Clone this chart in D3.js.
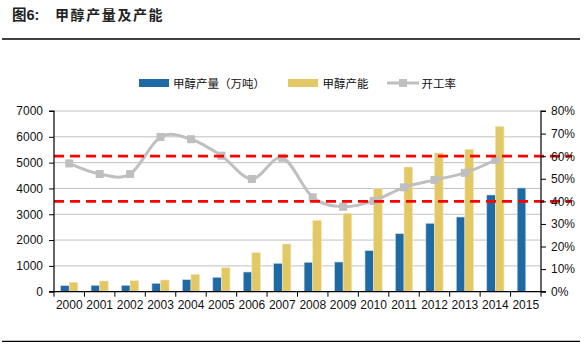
<!DOCTYPE html>
<html><head><meta charset="utf-8">
<script src="https://cdn.jsdelivr.net/npm/d3@7"></script>
<style>body{margin:0;background:#fff}svg{display:block}</style>
</head><body>
<svg id="c" width="587" height="346"></svg>
<script>
const years = ["2000","2001","2002","2003","2004","2005","2006","2007","2008","2009","2010","2011","2012","2013","2014","2015"];
const production = [233,248,248,325,465,558,763,1100,1140,1150,1588,2247,2650,2894,3747,4018];
const capacity = [364,415,426,453,674,930,1511,1848,2763,3037,3991,4831,5374,5517,6408,null];
const utilization = [0.568,0.521,0.521,0.685,0.675,0.602,0.499,0.593,0.418,0.376,0.402,0.462,0.495,0.526,0.583,null];
const leftTicks = [0,1000,2000,3000,4000,5000,6000,7000];
const rightTicks = [0,0.1,0.2,0.3,0.4,0.5,0.6,0.7,0.8];
const refLevels = [0.6,0.4];
const seriesNames = ["甲醇产量（万吨）","甲醇产能","开工率"];
const title1 = "图6:", title2 = "甲醇产量及产能";

const svg = d3.select("#c");
const L = 54, R = 541, T = 111, B = 291.7;
const x = d3.scaleBand().domain(years).range([L, R]).padding(0);
const y = d3.scaleLinear().domain([0,7000]).range([B, T]);
const y2 = d3.scaleLinear().domain([0,0.8]).range([B, T]);
const blue = "#1F69A4", yellow = "#E3C866", gray = "#BFBFBF";
const numFont = "'Liberation Sans Narrow','Arial Narrow','Liberation Sans',Arial,sans-serif";
const cjk = "'Noto Sans CJK SC',sans-serif";

// title
svg.append("text").attr("x",12).attr("y",20).attr("font-family","'Liberation Sans',Arial,"+cjk)
  .attr("font-weight","bold").attr("font-size",14.5).attr("fill","#222").text(title1);
svg.append("text").attr("x",55).attr("y",20).attr("font-family",cjk)
  .attr("font-weight","bold").attr("font-size",14).attr("letter-spacing",1.6).attr("fill","#222").text(title2);
svg.append("line").attr("x1",2).attr("x2",580).attr("y1",39).attr("y2",39).attr("stroke","#000").attr("stroke-width",1.3);
svg.append("line").attr("x1",2).attr("x2",580).attr("y1",341.3).attr("y2",341.3).attr("stroke","#000").attr("stroke-width",1.3);

// gridlines
svg.append("g").selectAll("line").data(leftTicks.filter(d=>d>0)).join("line")
  .attr("x1",L).attr("x2",R).attr("y1",d=>y(d)).attr("y2",d=>y(d))
  .attr("stroke","#C0C0C0").attr("stroke-width",1);

// bars
const bw = 8.6;
svg.append("g").selectAll("rect").data(years.map((yr,i)=>({yr,v:production[i]}))).join("rect")
  .attr("x",d=>x(d.yr)+x.bandwidth()/2-bw).attr("width",bw)
  .attr("y",d=>y(d.v)).attr("height",d=>B-y(d.v)).attr("fill",blue)
  .attr("stroke","#c9d9e8").attr("stroke-width",0.6);
svg.append("g").selectAll("rect").data(years.map((yr,i)=>({yr,v:capacity[i]})).filter(d=>d.v!=null)).join("rect")
  .attr("x",d=>x(d.yr)+x.bandwidth()/2).attr("width",bw)
  .attr("y",d=>y(d.v)).attr("height",d=>B-y(d.v)).attr("fill",yellow)
  .attr("stroke","#f3e7bd").attr("stroke-width",0.6);

// line
const pts = years.map((yr,i)=>({yr,v:utilization[i]})).filter(d=>d.v!=null);
const line = d3.line().x(d=>x(d.yr)+x.bandwidth()/2).y(d=>y2(d.v)).curve(d3.curveCardinal.tension(0));
svg.append("path").datum(pts).attr("d",line).attr("fill","none").attr("stroke",gray).attr("stroke-width",3);
svg.append("g").selectAll("rect").data(pts).join("rect")
  .attr("x",d=>x(d.yr)+x.bandwidth()/2-4).attr("y",d=>y2(d.v)-4).attr("width",8).attr("height",8).attr("fill",gray);

// red reference lines
svg.append("g").selectAll("line").data(refLevels).join("line")
  .attr("x1",L).attr("x2",572).attr("y1",d=>y2(d)).attr("y2",d=>y2(d))
  .attr("stroke","#FF0000").attr("stroke-width",2.8).attr("stroke-dasharray","10,6");

// axes
const axL = svg.append("g").attr("transform",`translate(${L},0)`)
  .call(d3.axisLeft(y).tickValues(leftTicks).tickSize(5).tickPadding(6).tickFormat(d3.format("d")));
const axR = svg.append("g").attr("transform",`translate(${R},0)`)
  .call(d3.axisRight(y2).tickValues(rightTicks).tickSize(5).tickPadding(5).tickFormat(d3.format(".0%")));
const axB = svg.append("g").attr("transform",`translate(0,${B})`)
  .call(d3.axisBottom(x).tickSize(0).tickPadding(9));
// bottom ticks at category boundaries
svg.append("g").selectAll("line").data(years.concat(["end"])).join("line")
  .attr("x1",(d,i)=>L+i*x.bandwidth()).attr("x2",(d,i)=>L+i*x.bandwidth())
  .attr("y1",B).attr("y2",B+5).attr("stroke","#000");
[axL,axR,axB].forEach(a=>{
  a.select(".domain").attr("stroke","#000").attr("stroke-width",1.2);
  a.selectAll(".tick line").attr("stroke","#000");
  a.selectAll("text").attr("font-family",numFont).attr("font-size",12).attr("fill","#111");
});
axL.select(".domain").attr("d",`M-5,${T}H0V${B}H-5`);
axR.select(".domain").attr("d",`M5,${T}H0V${B}H5`);
axB.select(".domain").attr("d",`M${L},0H${R}`);

// legend
const lg = svg.append("g").attr("font-family",cjk).attr("font-size",11.5).attr("fill","#111");
lg.append("rect").attr("x",139).attr("y",79).attr("width",30).attr("height",8).attr("fill",blue);
lg.append("text").attr("x",173).attr("y",87.5).text(seriesNames[0]);
lg.append("rect").attr("x",288).attr("y",79).attr("width",30).attr("height",8).attr("fill",yellow);
lg.append("text").attr("x",322.5).attr("y",87.5).text(seriesNames[1]);
lg.append("line").attr("x1",387).attr("x2",419).attr("y1",83).attr("y2",83).attr("stroke",gray).attr("stroke-width",3);
lg.append("rect").attr("x",399).attr("y",79).attr("width",8).attr("height",8).attr("fill",gray);
lg.append("text").attr("x",421.5).attr("y",87.5).text(seriesNames[2]);
</script>
</body></html>
